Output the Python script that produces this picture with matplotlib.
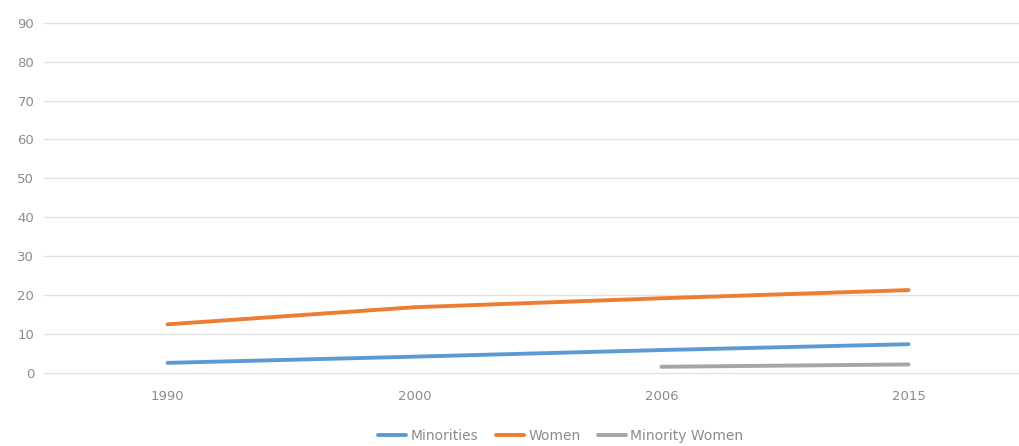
import matplotlib.pyplot as plt

# --- Data ---
years = ["1990", "2000", "2006", "2015"]
minorities = [2.6, 4.2, 5.9, 7.4]
women = [12.5, 16.9, 19.2, 21.3]
minority_women_years = ["2006", "2015"]
minority_women = [1.6, 2.2]

# office-style colours
blue = "#5B9BD5"
orange = "#ED7D31"
gray = "#A5A5A5"
text_color = "#8c8c8c"

fig = plt.figure(figsize=(10.19, 4.46), dpi=100)
ax = fig.add_axes([44 / 1019, 1 - 373 / 446, 4 * 247 / 1019, 350.3 / 446])

x = list(range(len(years)))
x_mw = [years.index(y) for y in minority_women_years]

ax.plot(x, minorities, color=blue, linewidth=2.8, label="Minorities", solid_capstyle="round")
ax.plot(x, women, color=orange, linewidth=2.8, label="Women", solid_capstyle="round")
ax.plot(x_mw, minority_women, color=gray, linewidth=2.8, label="Minority Women", solid_capstyle="round")

ax.set_xlim(-0.5, len(years) - 0.5)
ax.set_ylim(0, 90)
ax.set_yticks(range(0, 91, 10))
ax.set_xticks(x)
ax.set_xticklabels(years)

ax.grid(axis="y", color="#e3e3e3", linewidth=1)
for gl in ax.get_ygridlines():
    gl.set_clip_on(False)
ax.set_axisbelow(True)
for s in ax.spines.values():
    s.set_visible(False)
ax.tick_params(axis="both", length=0, labelsize=9.5, labelcolor=text_color)
ax.tick_params(axis="x", pad=12)
ax.tick_params(axis="y", pad=7)

fig.legend(loc="center", bbox_to_anchor=(561 / 1019, 1 - 436 / 446), ncol=3,
           frameon=False, fontsize=10, labelcolor=text_color,
           handlelength=2.0, handletextpad=0.3, columnspacing=1.3)

fig.savefig("out.png", dpi=100)
